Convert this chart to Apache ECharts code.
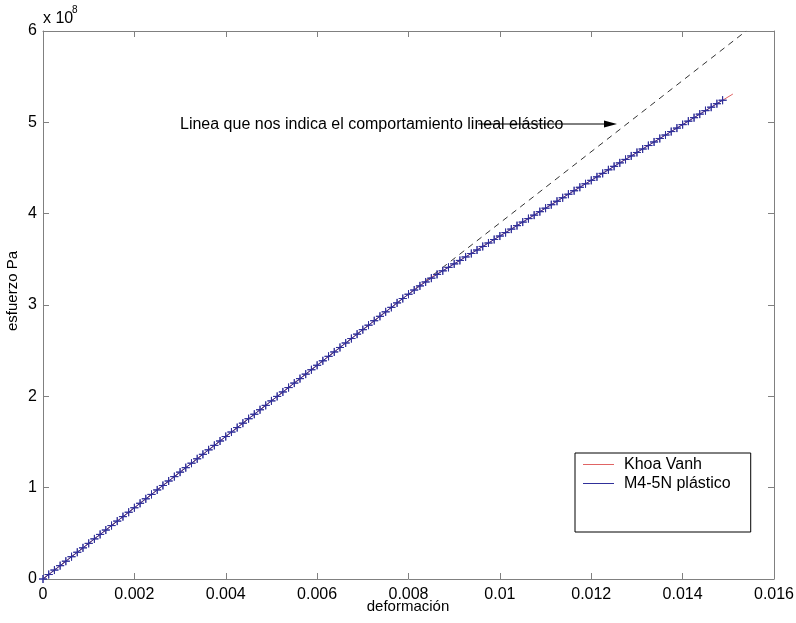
<!DOCTYPE html>
<html>
<head>
<meta charset="utf-8">
<script src="https://cdn.jsdelivr.net/npm/echarts@6/dist/echarts.min.js"></script>
<style>html,body{margin:0;padding:0;background:#fff}#c{width:796px;height:623px}</style>
</head>
<body>
<div id="c"></div>
<script>
// strain values (deformación) for the M4-5N plástico curve
var strainM4 = [0,0.000125,0.00025,0.000375,0.0005,0.000625,0.00075,0.000875,0.001,0.001125,
0.00125,0.001375,0.0015,0.001625,0.00175,0.001875,0.002,0.002125,0.00225,0.002375,
0.0025,0.002625,0.00275,0.002875,0.003,0.003125,0.00325,0.003375,0.0035,0.003625,
0.00375,0.003875,0.004,0.004125,0.00425,0.004375,0.0045,0.004625,0.00475,0.004875,
0.005,0.005125,0.00525,0.005375,0.0055,0.005625,0.00575,0.005875,0.006,0.006125,
0.00625,0.006375,0.0065,0.006625,0.00675,0.006875,0.007,0.007125,0.00725,0.007375,
0.0075,0.007625,0.00775,0.007875,0.008,0.008125,0.00825,0.008375,0.0085,0.008625,
0.00875,0.008875,0.009,0.009125,0.00925,0.009375,0.0095,0.009625,0.00975,0.009875,
0.01,0.010125,0.01025,0.010375,0.0105,0.010625,0.01075,0.010875,0.011,0.011125,
0.01125,0.011375,0.0115,0.011625,0.01175,0.011875,0.012,0.012125,0.01225,0.012375,
0.0125,0.012625,0.01275,0.012875,0.013,0.013125,0.01325,0.013375,0.0135,0.013625,
0.01375,0.013875,0.014,0.014125,0.01425,0.014375,0.0145,0.014625,0.01475,0.014875];
// stress values (x 10^8 Pa)
var stressM4 = [0,0.049,0.098,0.146,0.195,0.244,0.293,0.341,0.390,0.439,
0.488,0.536,0.585,0.634,0.683,0.731,0.780,0.829,0.878,0.926,
0.975,1.024,1.073,1.121,1.170,1.219,1.268,1.316,1.365,1.414,
1.463,1.511,1.560,1.609,1.658,1.706,1.755,1.804,1.853,1.901,
1.950,1.999,2.048,2.096,2.145,2.194,2.243,2.291,2.340,2.389,
2.438,2.486,2.535,2.584,2.633,2.681,2.730,2.779,2.828,2.876,
2.925,2.974,3.023,3.071,3.118,3.164,3.209,3.252,3.294,3.335,
3.374,3.412,3.450,3.488,3.526,3.564,3.602,3.641,3.679,3.717,
3.755,3.793,3.831,3.869,3.908,3.946,3.984,4.022,4.060,4.098,
4.136,4.174,4.213,4.251,4.289,4.327,4.365,4.403,4.441,4.480,
4.518,4.556,4.594,4.632,4.670,4.708,4.746,4.785,4.823,4.861,
4.899,4.937,4.975,5.013,5.051,5.090,5.128,5.166,5.204,5.242];
// Khoa Vanh curve
var strainKV = [0,0.0078,0.0082,0.0085,0.0088,0.010,0.012,0.014,0.0151];
var stressKV = [0,3.042,3.195,3.304,3.390,3.756,4.366,4.976,5.310];
// linear elastic reference line
var strainLin = [0,0.01539];
var stressLin = [0,6.0];
var xTicks = [0,0.002,0.004,0.006,0.008,0.01,0.012,0.014,0.016];
var yTicks = [0,1,2,3,4,5,6];

function pairs(a,b){return a.map(function(v,i){return [v,b[i]];});}

var FONT = 'Arial, "Liberation Sans", sans-serif';
var AX = '#808080';
var blue = '#30309a';
var red = '#e06464';

var chart = echarts.init(document.getElementById('c'), null, {renderer:'canvas'});
var baseX = {type:'value',min:xTicks[0],max:xTicks[xTicks.length-1],interval:0.002,
  splitLine:{show:false},axisLine:{onZero:false,lineStyle:{color:AX,width:1}},
  axisTick:{inside:true,length:6,lineStyle:{color:AX}}};
var baseY = {type:'value',min:yTicks[0],max:yTicks[yTicks.length-1],interval:1,
  splitLine:{show:false},axisLine:{onZero:false,lineStyle:{color:AX,width:1}},
  axisTick:{inside:true,length:6,lineStyle:{color:AX}}};

chart.setOption({
  animation:false,
  backgroundColor:'#fff',
  grid:{left:43,top:31,right:22,bottom:44,containLabel:false,outerBoundsMode:'none'},
  xAxis:[
    Object.assign({},baseX,{position:'bottom',
      axisLabel:{margin:8,fontFamily:FONT,fontSize:16,color:'#000',
        formatter:function(v){return String(+v.toFixed(3));}}}),
    Object.assign({},baseX,{position:'top',axisLabel:{show:false}})
  ],
  yAxis:[
    Object.assign({},baseY,{position:'left',axisLabel:{margin:6,fontFamily:FONT,fontSize:16,color:'#000'}}),
    Object.assign({},baseY,{position:'right',axisLabel:{show:false}})
  ],
  legend:{
    orient:'vertical',left:575,top:453,
    backgroundColor:'#fff',borderColor:'#000',borderWidth:1,
    padding:[3,20,40,8],itemGap:2,itemWidth:31,itemHeight:1,icon:'rect',
    textStyle:{fontFamily:FONT,fontSize:16,color:'#000',lineHeight:17,padding:[0,0,0,5]},
    data:[{name:'Khoa Vanh',itemStyle:{color:red}},{name:'M4-5N plástico',itemStyle:{color:blue}}]
  },
  series:[
    {name:'lineal',type:'line',data:pairs(strainLin,stressLin),showSymbol:false,symbol:'none',
      lineStyle:{color:'#333',width:1,type:[6,5]},silent:true,z:1},
    {name:'Khoa Vanh',type:'line',data:pairs(strainKV,stressKV),symbol:'none',
      lineStyle:{color:red,width:1},itemStyle:{color:red},z:2},
    {name:'M4-5N plástico',type:'line',data:pairs(strainM4,stressM4),symbol:'none',
      lineStyle:{color:blue,width:1},itemStyle:{color:blue},z:3},
    {name:'markers',type:'scatter',data:pairs(strainM4,stressM4),
      symbol:'path://M5,0L5,10L5,5L0,5L10,5L5,5Z',symbolSize:8,
      itemStyle:{color:'none',borderColor:blue,borderWidth:1,opacity:1},z:4,silent:true}
  ],
  graphic:[
    {type:'text',left:43,top:11,style:{text:'x 10',font:'16px '+FONT,fill:'#000'}},
    {type:'text',left:72,top:5,style:{text:'8',font:'10px '+FONT,fill:'#000'}},
    {type:'text',x:13,y:291,rotation:Math.PI/2,style:{text:'esfuerzo Pa',font:'15px '+FONT,fill:'#000',align:'center',verticalAlign:'middle'}},
    {type:'text',x:408,y:607,style:{text:'deformación',font:'15px '+FONT,fill:'#000',align:'center',verticalAlign:'middle'}},
    {type:'text',left:180,top:117,style:{text:'Linea que nos indica el comportamiento lineal elástico',font:'16px '+FONT,fill:'#000'}},
    {type:'line',shape:{x1:478,y1:124,x2:606,y2:124},style:{stroke:'#000',lineWidth:1},z:10},
    {type:'polygon',shape:{points:[[604,120.5],[617,124],[604,127.5]]},style:{fill:'#000'},z:10}
  ]
});
</script>
</body>
</html>
